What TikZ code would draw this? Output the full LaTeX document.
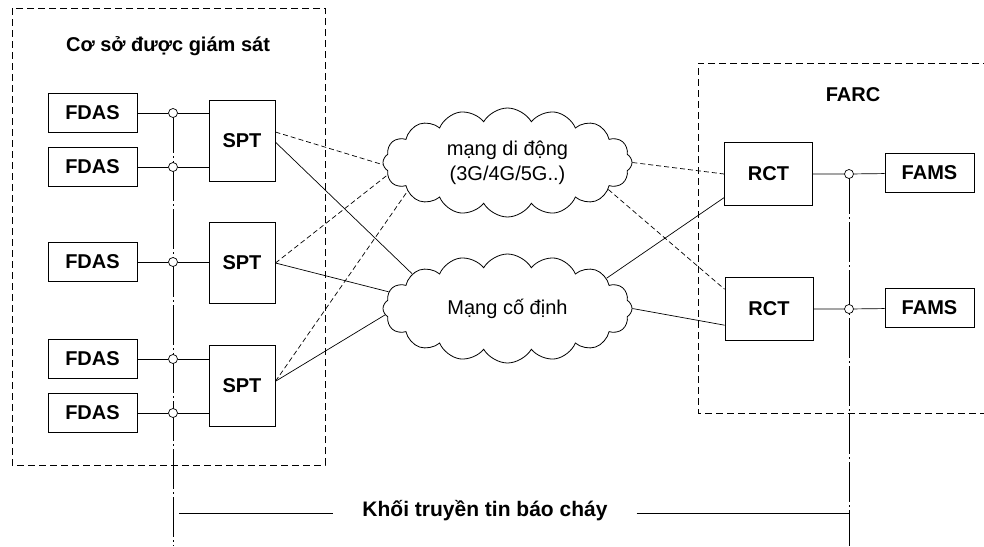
\documentclass[tikz,border=0pt]{standalone}
\usepackage{fontspec}
\setmainfont{Liberation Sans}
\usepackage{tikz}
\usetikzlibrary{arrows,positioning,shapes,calc}
\tikzstyle{block} = [draw, fill=white, rectangle, line width=0.9pt, inner sep=0pt,
font=\fontsize{20}{24}\selectfont\bfseries]
\tikzstyle{fdas} = [block, minimum width=89pt, minimum height=39pt]
\tikzstyle{spt} = [block, minimum width=66pt, minimum height=81pt]
\tikzstyle{rct} = [block, minimum width=88pt, minimum height=63pt]
\tikzstyle{tap} = [draw, fill=white, circle, inner sep=0pt, minimum size=9pt, line width=0.7pt]
\tikzstyle{net} = [draw, cloud, cloud puffs=16, cloud puff arc=120, cloud ignores aspect,
minimum width=249pt, minimum height=109pt, align=center, line width=0.8pt,
font=\fontsize{20}{25}\selectfont]
\tikzstyle{title} = [font=\fontsize{20}{24}\selectfont\bfseries]
\tikzstyle{zone} = [dash pattern=on 7pt off 4pt, line width=0.9pt]
\tikzstyle{bus} = [dash pattern=on 40pt off 3pt on 2pt off 3pt, line width=0.8pt]
\tikzstyle{link} = [line width=0.7pt]
\tikzstyle{wireless} = [link, dash pattern=on 5pt off 3pt]

\begin{document}
\begin{tikzpicture}[x=1pt, y=-1pt, node distance=54pt]
	\useasboundingbox (0,0) rectangle (984,546);
	\draw [zone] (12,8) rectangle (325,465);
	\draw [zone] (990,63) -- (698,63) -- (698,413) -- (990,413);
	\node [title] (Site) at (168,46) {Cơ sở được giám sát};
	\node [title] (Farc) at (853,95) {FARC};
	
	\node [fdas] (Fdas1) at (92.5,113) {FDAS};
	\node [fdas, below of=Fdas1] (Fdas2) {FDAS};
	\node [fdas, below of=Fdas2, node distance=95pt] (Fdas3) {FDAS};
	\node [fdas, below of=Fdas3, node distance=97pt] (Fdas4) {FDAS};
	\node [fdas, below of=Fdas4] (Fdas5) {FDAS};
	\node [spt] (Spt1) at (242,141) {SPT};
	\node [spt] (Spt2) at (242,263) {SPT};
	\node [spt] (Spt3) at (242,386) {SPT};
	
	\node [net] (Mobile) at (507.5,162.5) {mạng di động\\(3G/4G/5G..)};
	\node [net] (Fixed) at (507.5,308.5) {Mạng cố định};
	
	\node [rct] (Rct1) at (768.5,174) {RCT};
	\node [rct] (Rct2) at (769,309) {RCT};
	\node [fdas] (Fams1) at (929.5,173) {FAMS};
	\node [fdas] (Fams2) at (929.5,308) {FAMS};
	
	\coordinate (LeftEnd) at (173,546);
	\coordinate (RightEnd) at (849,546);
	\draw [bus] (Fdas1 -| LeftEnd) -- (LeftEnd);
	\draw [bus] (Rct1 -| RightEnd) -- (RightEnd);
	
	\node [tap, right of=Fdas1, node distance=80.5pt] (Tap1) {};
	\node [tap, right of=Fdas2, node distance=80.5pt] (Tap2) {};
	\node [tap, right of=Fdas3, node distance=80.5pt] (Tap3) {};
	\node [tap, right of=Fdas4, node distance=80.5pt] (Tap4) {};
	\node [tap, right of=Fdas5, node distance=80.5pt] (Tap5) {};
	\node [tap, right of=Rct1, node distance=80.5pt] (Tap6) {};
	\node [tap, right of=Rct2, node distance=80pt] (Tap7) {};
	
	\draw [link] (Fdas1) -- (Tap1) -- (Tap1 -| Spt1.west);
	\draw [link] (Fdas2) -- (Tap2) -- (Tap2 -| Spt1.west);
	\draw [link] (Fdas3) -- (Tap3) -- (Tap3 -| Spt2.west);
	\draw [link] (Fdas4) -- (Tap4) -- (Tap4 -| Spt3.west);
	\draw [link] (Fdas5) -- (Tap5) -- (Tap5 -| Spt3.west);
	\draw [link] (Rct1) -- (Tap6) -- (Fams1);
	\draw [link] (Rct2) -- (Tap7) -- (Fams2);
	
	\draw [wireless] (Spt1.15) -- (Mobile.181);
	\draw [link] (Spt1.-2) -- (Fixed.160);
	\draw [wireless] (Spt2.east) -- (Mobile.186);
	\draw [link] (Spt2.east) -- (Fixed.172);
	\draw [wireless] (Spt3.8) -- (Mobile.196);
	\draw [link] (Spt3.8) -- (Fixed.183);
	\draw [wireless] (Mobile.0) -- (Rct1.west);
	\draw [wireless] (Mobile.345) -- (Rct2.156);
	\draw [link] (Fixed.17) -- (Rct1.208);
	\draw [link] (Fixed.0) -- (Rct2.200);
	
	\coordinate (DimL) at (179,513);
	\coordinate (DimR) at (849,513);
	\node [title, font=\fontsize{21}{24}\selectfont\bfseries, inner xsep=29pt] (Block) at (485,511) {Khối truyền tin báo cháy};
	\draw [link] (DimL) -- (DimL -| Block.west);
	\draw [link] (DimR -| Block.east) -- (DimR);
	
\end{tikzpicture}
\end{document}
